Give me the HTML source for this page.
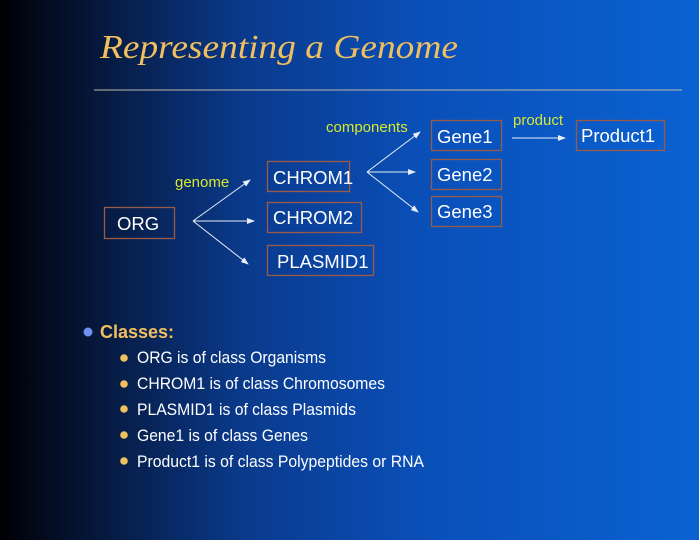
<!DOCTYPE html>
<html><head><meta charset="utf-8"><style>
html,body{margin:0;padding:0}
body{width:699px;height:540px;overflow:hidden;background:linear-gradient(90deg,#000005 0%,#061a40 15%,#0a3a8c 35%,#0a4fb8 60%,#0a62d2 100%);}
</style></head><body>
<svg width="699" height="540" xmlns="http://www.w3.org/2000/svg" style="position:absolute;left:0;top:0">
<defs><marker id="a" markerWidth="8" markerHeight="6" refX="7" refY="3" orient="auto" markerUnits="userSpaceOnUse"><path d="M0,0 L8,3 L0,6 z" fill="#e8eef8"/></marker></defs>
<text x="100" y="58" font-family="Liberation Serif,serif" font-style="italic" font-size="34" fill="#f0c060" textLength="358" lengthAdjust="spacingAndGlyphs">Representing a Genome</text>
<line x1="94" y1="90" x2="682" y2="90" stroke="#c0b8a8" stroke-width="1"/>
<g font-family="Liberation Sans,sans-serif" font-size="18.5" fill="#fff">
<g fill="none" stroke="#9a5a48" stroke-width="1.3">
<rect x="104.5" y="207.5" width="70" height="31"/>
<rect x="267.5" y="161.5" width="82" height="30"/>
<rect x="267.5" y="202.5" width="94" height="30"/>
<rect x="267.5" y="245.5" width="106" height="30"/>
<rect x="431.5" y="120.5" width="70" height="30"/>
<rect x="431.5" y="159.5" width="70" height="30"/>
<rect x="431.5" y="196.5" width="70" height="30"/>
<rect x="576.5" y="120.5" width="88" height="30"/>
</g>
<text x="117" y="230">ORG</text>
<text x="273" y="184">CHROM1</text>
<text x="273" y="224">CHROM2</text>
<text x="277" y="268">PLASMID1</text>
<text x="437" y="143">Gene1</text>
<text x="437" y="181">Gene2</text>
<text x="437" y="218">Gene3</text>
<text x="581" y="142">Product1</text>
</g>
<g stroke="#e8eef8" stroke-width="1" marker-end="url(#a)">
<line x1="193" y1="221" x2="250" y2="180"/>
<line x1="193" y1="221" x2="254" y2="221"/>
<line x1="193" y1="221" x2="248" y2="264"/>
<line x1="367" y1="172" x2="420" y2="132"/>
<line x1="367" y1="172" x2="415" y2="172"/>
<line x1="367" y1="172" x2="418" y2="212"/>
<line x1="512" y1="138" x2="565" y2="138"/>
</g>
<g font-family="Liberation Sans,sans-serif" font-size="15" fill="#d8e830">
<text x="175" y="187">genome</text>
<text x="326" y="132">components</text>
<text x="513" y="125">product</text>
</g>
<circle cx="88" cy="332" r="4.5" fill="#7090f0"/>
<text x="100" y="338" font-family="Liberation Sans,sans-serif" font-weight="bold" font-size="18" fill="#f0c060">Classes:</text>
<g font-family="Liberation Sans,sans-serif" font-size="16.5" fill="#fff">
<g fill="#f0c060"><circle cx="124" cy="358" r="3.8"/><circle cx="124" cy="384" r="3.8"/><circle cx="124" cy="409" r="3.8"/><circle cx="124" cy="435" r="3.8"/><circle cx="124" cy="461" r="3.8"/></g>
<text x="137" y="363" textLength="189" lengthAdjust="spacingAndGlyphs">ORG is of class Organisms</text>
<text x="137" y="389" textLength="248" lengthAdjust="spacingAndGlyphs">CHROM1 is of class Chromosomes</text>
<text x="137" y="415" textLength="219" lengthAdjust="spacingAndGlyphs">PLASMID1 is of class Plasmids</text>
<text x="137" y="441" textLength="171" lengthAdjust="spacingAndGlyphs">Gene1 is of class Genes</text>
<text x="137" y="467" textLength="287" lengthAdjust="spacingAndGlyphs">Product1 is of class Polypeptides or RNA</text>
</g>
</svg>
</body></html>
